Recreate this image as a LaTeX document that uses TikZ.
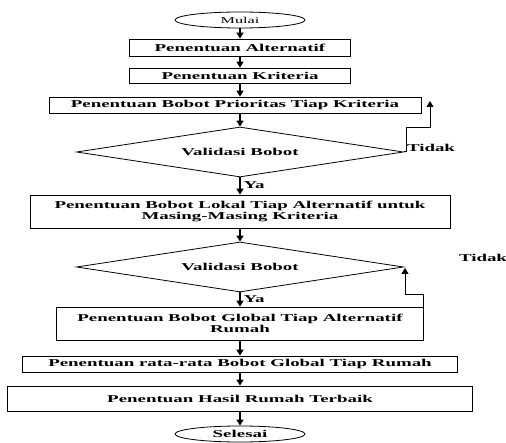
\documentclass[tikz,border=0pt]{standalone}
\usepackage{fontspec}
\setmainfont{Liberation Serif}[FakeStretch=1.8]
\usetikzlibrary{shapes.geometric,arrows.meta}
\begin{document}
\begin{tikzpicture}[x=1pt,y=1pt,
  font=\fontsize{10.5}{11.5}\selectfont\bfseries,
  box/.style={draw,line width=0.8pt,inner sep=0pt,align=center,rectangle},
  term/.style={draw,line width=0.8pt,ellipse,inner sep=0pt,minimum width=130pt,minimum height=16pt},
  dec/.style={draw,line width=0.8pt,diamond,aspect=6.54,inner sep=0pt,minimum width=327pt,minimum height=50pt},
  arr/.style={line width=1.3pt,-{Triangle[width=7pt,length=6pt]}},
  loopline/.style={line width=1pt,-{Triangle[width=7pt,length=6pt]}},
  lbl/.style={inner sep=0pt}]
\useasboundingbox (0,0) rectangle (506,-443);
\node[term] (mulai) at (240,-20) {\fontsize{9}{10}\selectfont\mdseries Mulai};
\node[box,minimum width=221pt,minimum height=17pt] (alt) at (240,-47.5) {Penentuan Alternatif};
\node[box,minimum width=221pt,minimum height=15pt] (krit) at (240,-75.5) {Penentuan Kriteria};
\node[box,minimum width=372pt,minimum height=16pt] (prio) at (235,-105) {Penentuan Bobot Prioritas Tiap Kriteria};
\node[dec] (val1) at (240,-152) {Validasi Bobot};
\node[box,minimum width=420pt,minimum height=33pt] (lok) at (240,-211.5) {Penentuan Bobot Lokal Tiap Alternatif untuk\\Masing-Masing Kriteria};
\node[dec] (val2) at (240,-267) {Validasi Bobot};
\node[box,minimum width=367pt,minimum height=33pt] (glob) at (240,-323.5) {Penentuan Bobot Global Tiap Alternatif\\Rumah};
\node[box,minimum width=435pt,minimum height=16pt] (rata) at (240,-364) {Penentuan rata-rata Bobot Global Tiap Rumah};
\node[box,minimum width=465pt,minimum height=25pt] (hasil) at (240,-398.5) {Penentuan Hasil Rumah Terbaik};
\node[term] (selesai) at (240,-434) {Selesai};

\draw[arr] (mulai) -- (alt);
\draw[arr] (alt) -- (krit);
\draw[arr] (krit) -- (prio.north -| krit.south);
\draw[arr] (prio.south -| val1.north) -- (val1);
\draw[arr] (val1) -- (lok) node[lbl,pos=0.45,anchor=west,xshift=3pt] {Ya};
\draw[arr] (lok) -- (val2);
\draw[arr] (val2) -- (glob) node[lbl,pos=0.45,anchor=west,xshift=3pt] {Ya};
\draw[arr] (glob) -- (rata);
\draw[arr] (rata) -- (hasil);
\draw[arr] (hasil) -- (selesai);

\coordinate (t1) at (430,-101);
\draw[loopline] (val1.east) -- ++(3,0) -- ++(0,24) -| (t1);
\node[lbl] (tidak1) at (431,-148) {Tidak};

\coordinate (t2) at (405,-268);
\draw[loopline] (glob.north east) -- ++(0,12) -| (t2);
\node[lbl] (tidak2) at (483,-258) {Tidak};
\end{tikzpicture}
\end{document}
